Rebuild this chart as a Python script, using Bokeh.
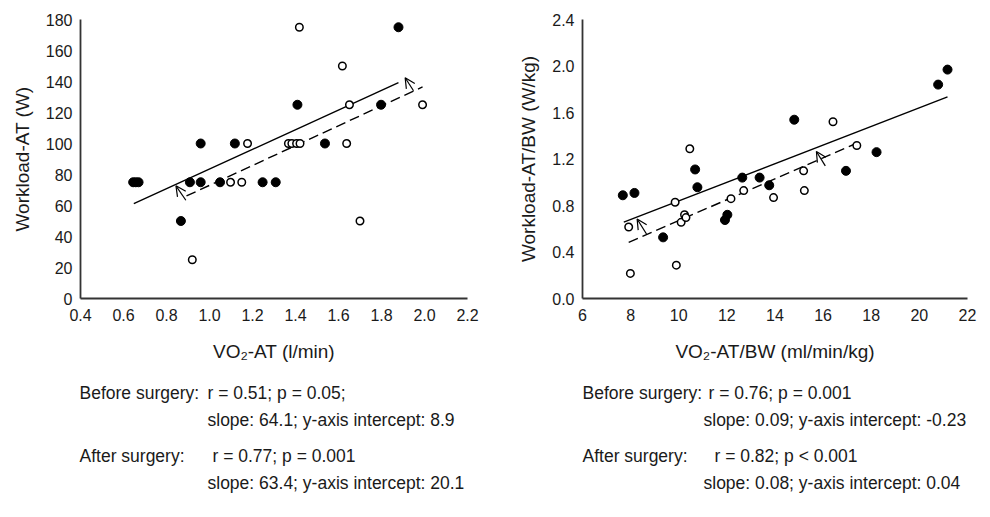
from bokeh.plotting import figure
from bokeh.models import Range1d, FixedTicker, PrintfTickFormatter, Arrow, OpenHead, ColumnDataSource
from bokeh.layouts import column, row
from bokeh.core.properties import value
from bokeh.embed import file_html
from bokeh.resources import INLINE

# ---------------- data ----------------
# Left panel: Workload-AT (W) vs VO2-AT (l/min)
l_after_x = [0.645, 0.657, 0.670, 0.867, 0.909, 0.959, 0.959, 1.049, 1.118, 1.247, 1.308, 1.409, 1.537, 1.798, 1.879]
l_after_y = [75, 75, 75, 50, 75, 100, 75, 75, 100, 75, 75, 125, 100, 125, 175]
l_before_x = [0.920, 1.098, 1.150, 1.177, 1.367, 1.383, 1.405, 1.421, 1.418, 1.618, 1.638, 1.651, 1.700, 1.991]
l_before_y = [25, 75, 75, 100, 100, 100, 100, 100, 175, 150, 100, 125, 50, 125]
l_after_fit = (63.4, 20.1)      # slope, intercept
l_before_fit = (64.1, 8.9)
l_after_ext = [0.648, 1.879]
l_before_ext = [0.893, 1.991]
l_arrow_x0 = [0.890, 1.949]
l_arrow_y0 = [63.4, 134.0]
l_arrow_x1 = [0.844, 1.910]
l_arrow_y1 = [72.7, 142.4]
l_xticks = [0.4, 0.6, 0.8, 1.0, 1.2, 1.4, 1.6, 1.8, 2.0, 2.2]
l_yticks = [0, 20, 40, 60, 80, 100, 120, 140, 160, 180]

# Right panel: Workload-AT/BW (W/kg) vs VO2-AT/BW (ml/min/kg)
r_after_x = [7.675, 8.159, 9.35, 10.68, 10.775, 11.92, 12.02, 12.64, 13.36, 13.76, 14.80, 16.95, 18.22, 20.78, 21.17]
r_after_y = [0.888, 0.908, 0.526, 1.11, 0.957, 0.675, 0.72, 1.04, 1.04, 0.974, 1.538, 1.098, 1.259, 1.84, 1.969]
r_before_x = [7.92, 7.99, 9.85, 9.90, 10.10, 10.24, 10.30, 10.46, 12.17, 12.70, 13.94, 15.19, 15.22, 16.41, 17.40]
r_before_y = [0.615, 0.216, 0.828, 0.287, 0.655, 0.72, 0.696, 1.288, 0.859, 0.928, 0.868, 1.098, 0.928, 1.52, 1.316]
r_after_fit = (0.08, 0.04)
r_before_fit = (0.09, -0.23)
r_after_ext = [7.716, 21.17]
r_before_ext = [7.92, 17.3]
r_arrow_x0 = [8.66, 16.09]
r_arrow_y0 = [0.555, 1.141]
r_arrow_x1 = [8.27, 15.72]
r_arrow_y1 = [0.684, 1.265]
r_xticks = [6, 8, 10, 12, 14, 16, 18, 20, 22]
r_yticks = [0.0, 0.4, 0.8, 1.2, 1.6, 2.0, 2.4]

l_stats = ["Before surgery:", "r = 0.51; p = 0.05;", "slope: 64.1; y-axis intercept: 8.9",
           "After surgery:", "r = 0.77; p = 0.001", "slope: 63.4; y-axis intercept: 20.1"]
r_stats = ["Before surgery:", "r = 0.76; p = 0.001", "slope: 0.09; y-axis intercept: -0.23",
           "After surgery:", "r = 0.82; p < 0.001", "slope: 0.08; y-axis intercept:  0.04"]

FONT = "Liberation Sans"
INK = "#1a1a1a"


def panel(width, left_border, frame_w, xr, yr, xticks, yticks, xfmt, yfmt, xlabel, ylabel,
          ax, ay, bx, by, afit, bfit, aext, bext, arx0, ary0, arx1, ary1):
    p = figure(width=width, height=368, x_range=Range1d(*xr), y_range=Range1d(*yr),
               output_backend="svg", toolbar_location=None,
               min_border_left=left_border, min_border_right=width - left_border - frame_w,
               min_border_top=19, min_border_bottom=70)
    p.outline_line_color = None
    p.grid.visible = False
    p.background_fill_color = "white"
    p.border_fill_color = "white"
    for axis, ticks, fmt, lab in ((p.xaxis[0], xticks, xfmt, xlabel), (p.yaxis[0], yticks, yfmt, ylabel)):
        axis.ticker = FixedTicker(ticks=ticks)
        axis.formatter = PrintfTickFormatter(format=fmt)
        axis.axis_label = lab
        axis.axis_label_text_font = FONT
        axis.axis_label_text_font_size = "19px"
        axis.axis_label_text_font_style = "normal"
        axis.axis_label_text_color = INK
        axis.major_label_text_font = FONT
        axis.major_label_text_font_size = "16px"
        axis.major_label_text_color = INK
        axis.major_tick_line_color = None
        axis.minor_tick_line_color = None
        axis.major_tick_out = 0
        axis.major_tick_in = 0
        axis.minor_tick_out = 0
        axis.minor_tick_in = 0
        axis.axis_line_color = "#333333"
        axis.axis_line_width = 1.8
    p.xaxis.major_label_standoff = 10
    p.yaxis.major_label_standoff = 8
    p.xaxis.axis_label_standoff = 17
    p.yaxis.axis_label_standoff = 10

    # regression lines from slope/intercept
    p.line(aext, [afit[0] * x + afit[1] for x in aext], line_color="black", line_width=1.4)
    p.line(bext, [bfit[0] * x + bfit[1] for x in bext], line_color="black", line_width=1.4,
           line_dash="10 5")
    src = ColumnDataSource(dict(x0=arx0, y0=ary0, x1=arx1, y1=ary1))
    p.add_layout(Arrow(end=OpenHead(size=10, line_width=1.2, line_color="black"),
                       x_start="x0", y_start="y0", x_end="x1", y_end="y1", source=src,
                       line_width=1.2, line_color="black"))
    p.scatter(bx, by, marker="circle", size=7.5, fill_color="white", line_color="black", line_width=1.5)
    p.scatter(ax, ay, marker="circle", size=9, fill_color="black", line_color="black")
    return p


p1 = panel(495, 80, 387, (0.4, 2.2), (0, 180), l_xticks, l_yticks, "%.1f", "%d",
           "VO\u2082-AT (l/min)", "Workload-AT (W)",
           l_after_x, l_after_y, l_before_x, l_before_y, l_after_fit, l_before_fit,
           l_after_ext, l_before_ext, l_arrow_x0, l_arrow_y0, l_arrow_x1, l_arrow_y1)
p2 = panel(495, 87, 385, (6, 22), (0, 2.4), r_xticks, r_yticks, "%d", "%.1f",
           "VO\u2082-AT/BW (ml/min/kg)", "Workload-AT/BW (W/kg)",
           r_after_x, r_after_y, r_before_x, r_before_y, r_after_fit, r_before_fit,
           r_after_ext, r_before_ext, r_arrow_x0, r_arrow_y0, r_arrow_x1, r_arrow_y1)


def stats_fig(texts, xs, ys):
    t = figure(width=495, height=149, x_range=Range1d(0, 495), y_range=Range1d(149, 0),
               output_backend="svg", toolbar_location=None, min_border=0)
    t.axis.visible = False
    t.grid.visible = False
    t.outline_line_color = None
    t.text(xs, ys, text=texts, text_font=value(FONT), text_font_size="17.5px",
           text_color=INK, text_baseline="middle", text_align="left")
    return t


t1 = stats_fig(l_stats, [79, 207, 207, 79, 212, 207], [24, 24, 51, 87, 87, 114])
t2 = stats_fig(r_stats, [87, 213, 208, 87, 219, 208], [24, 24, 51, 87, 87, 114])

layout = column(row(p1, p2), row(t1, t2))
open("out.html", "w").write(file_html(layout, INLINE))
